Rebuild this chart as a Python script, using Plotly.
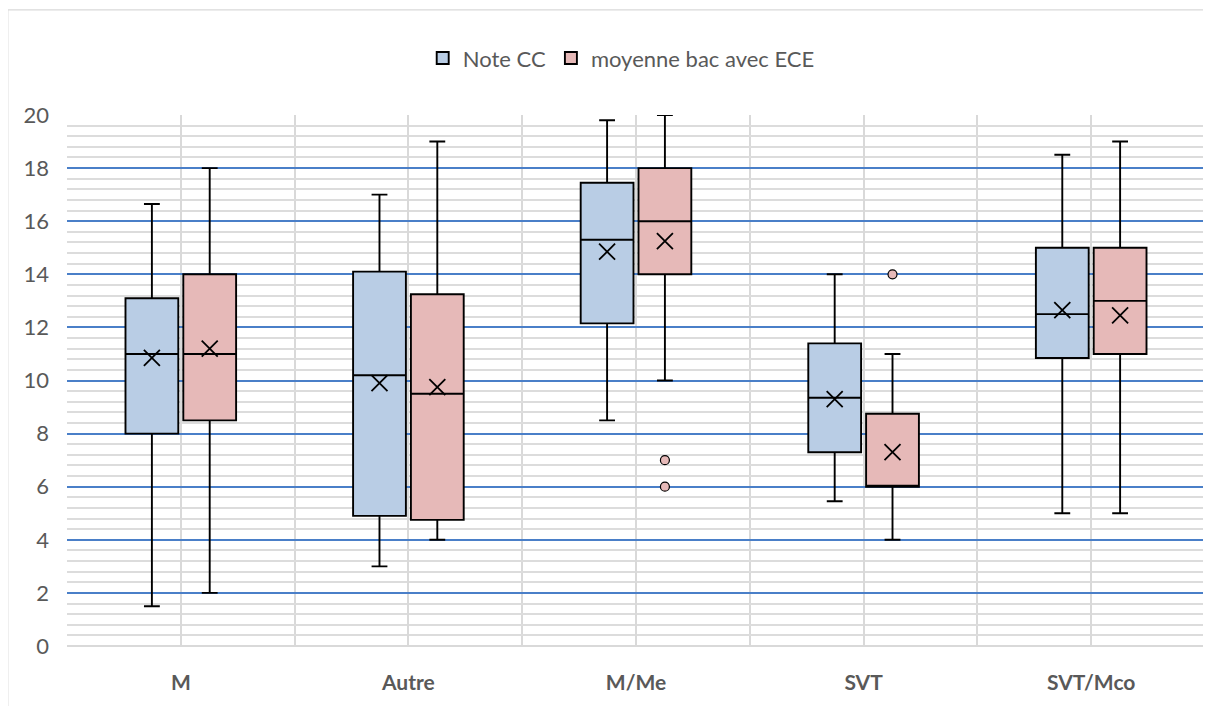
import plotly.graph_objects as go

categories = ["M", "Autre", "M/Me", "SVT", "SVT/Mco"]

# Note CC
cc_min = [1.5, 3.0, 8.5, 5.45, 5.0]
cc_q1 = [8.0, 4.9, 12.15, 7.3, 10.85]
cc_med = [11.0, 10.2, 15.3, 9.35, 12.5]
cc_q3 = [13.1, 14.1, 17.45, 11.4, 15.0]
cc_max = [16.65, 17.0, 19.8, 14.0, 18.5]
cc_mean = [10.85, 9.9, 14.85, 9.3, 12.65]

# moyenne bac avec ECE
bac_min = [2.0, 4.0, 10.0, 4.0, 5.0]
bac_q1 = [8.5, 4.75, 14.0, 6.0, 11.0]
bac_med = [11.0, 9.5, 16.0, 6.0, 13.0]
bac_q3 = [14.0, 13.25, 18.0, 8.75, 15.0]
bac_max = [18.0, 19.0, 20.0, 11.0, 19.0]
bac_mean = [11.2, 9.75, 15.25, 7.3, 12.45]
bac_out_cat = [2, 2, 3]
bac_out_val = [7.0, 6.0, 14.0]

y_ticks = [0, 2, 4, 6, 8, 10, 12, 14, 16, 18, 20]

BLUE = "#b9cde5"
PINK = "#e6b9b8"
OFF = 0.127
BW = 0.232

idx = list(range(len(categories)))
xc = [i - OFF for i in idx]
xb = [i + OFF for i in idx]

fig = go.Figure()
fig.add_trace(go.Box(
    name="Note CC", x=xc, q1=cc_q1, median=cc_med, q3=cc_q3,
    lowerfence=cc_min, upperfence=cc_max, fillcolor=BLUE,
    line=dict(color="black", width=1.9), width=BW, whiskerwidth=0.3,
    boxpoints=False, hoverinfo="skip"))
fig.add_trace(go.Box(
    name="moyenne bac avec ECE", x=xb, q1=bac_q1, median=bac_med, q3=bac_q3,
    lowerfence=bac_min, upperfence=bac_max, fillcolor=PINK,
    line=dict(color="black", width=1.9), width=BW, whiskerwidth=0.3,
    boxpoints=False, hoverinfo="skip"))
fig.add_trace(go.Scatter(
    x=xc, y=cc_mean, mode="markers", showlegend=False,
    marker=dict(symbol="x-thin-open", size=16, color="black",
                line=dict(color="black", width=1.8))))
fig.add_trace(go.Scatter(
    x=xb, y=bac_mean, mode="markers", showlegend=False,
    marker=dict(symbol="x-thin-open", size=16, color="black",
                line=dict(color="black", width=1.8))))
fig.add_trace(go.Scatter(
    x=[c + OFF for c in bac_out_cat], y=bac_out_val, mode="markers", showlegend=False,
    marker=dict(symbol="circle", size=9, color=PINK, line=dict(color="black", width=1.2))))

fig.update_layout(
    width=1203, height=698,
    margin=dict(l=59, r=6, t=107, b=60, autoexpand=False),
    paper_bgcolor="white", plot_bgcolor="white",
    font=dict(family="Lato, 'Open Sans', sans-serif", color="#595959", size=22),
    showlegend=True,
    legend=dict(orientation="h", x=0.487, xanchor="center", y=1.107, yanchor="middle",
                font=dict(size=22, color="#595959"), itemwidth=30, traceorder="normal",
                bgcolor="rgba(0,0,0,0)"),
    xaxis=dict(
        range=[-0.5, 4.5], tickvals=idx, ticktext=[f"<b>{c}</b>" for c in categories],
        showgrid=True, gridcolor="#d9d9d9", gridwidth=2, zeroline=False,
        ticks="", ticklabelstandoff=22, tickfont=dict(size=21, color="#595959"),
        minor=dict(tickvals=[i - 0.5 for i in range(len(categories) + 1)],
                   showgrid=True, gridcolor="#d9d9d9", gridwidth=2),
        showline=False),
    yaxis=dict(
        range=[0, 20], tickvals=y_ticks, showgrid=True, gridcolor="#4a7fc8", gridwidth=2,
        zeroline=False, ticks="", ticklabelstandoff=17,
        tickfont=dict(size=22, color="#595959"),
        minor=dict(dtick=0.4, tick0=0, showgrid=True, gridcolor="#dcdcdc", gridwidth=2),
        showline=False),
    shapes=[dict(type="rect", xref="paper", yref="paper",
                 x0=-0.052, x1=1.0044, y0=-0.2, y1=1.198,
                 line=dict(color="#d9d9d9", width=1.2), layer="below")],
)
fig.add_shape(type="line", xref="paper", yref="paper", x0=0, x1=1, y0=0, y1=0,
              line=dict(color="#d9d9d9", width=2), layer="below")

fig.write_html("out.html")
